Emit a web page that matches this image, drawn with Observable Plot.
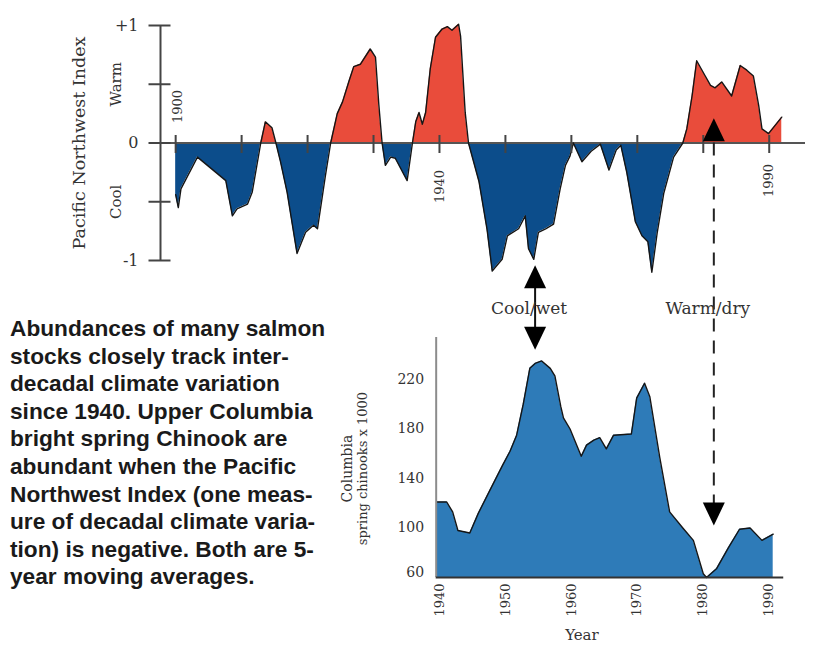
<!DOCTYPE html>
<html><head><meta charset="utf-8">
<script src="https://cdn.jsdelivr.net/npm/d3@7"></script>
<script src="https://cdn.jsdelivr.net/npm/@observablehq/plot@0.6"></script>
<style>
html,body{margin:0;padding:0;background:#fff;}
#wrap{position:relative;width:830px;height:647px;overflow:hidden;background:#fff;}
#wrap svg{position:absolute;left:0;top:0;}
#note{position:absolute;left:10px;top:315px;font-family:"Liberation Sans",Arial,sans-serif;font-weight:bold;font-size:22.7px;line-height:27.6px;color:#1a1a1a;white-space:nowrap;}
</style></head><body>
<div id="wrap"><div id="note">Abundances of many salmon<br>stocks closely track inter-<br>decadal climate variation<br>since 1940. Upper Columbia<br>bright spring Chinook are<br>abundant when the Pacific<br>Northwest Index (one meas-<br>ure of decadal climate varia-<br>tion) is negative. Both are 5-<br>year moving averages.</div></div>
<script>
// ---- Data: Pacific Northwest Index (5-yr moving average) ----
const pnwYear = [1900.0,1900.4,1900.8,1903.3,1907.6,1908.6,1909.3,1910.9,1911.6,1912.9,1913.6,1914.6,1915.2,1915.9,1916.9,1918.4,1919.7,1920.9,1921.5,1922.7,1923.5,1924.5,1925.3,1926.3,1927.0,1928.0,1929.5,1930.3,1930.8,1931.3,1931.8,1932.6,1933.3,1935.1,1935.9,1936.4,1936.9,1937.4,1937.9,1938.6,1939.4,1940.4,1941.2,1941.9,1942.9,1943.2,1943.9,1944.4,1946.0,1947.2,1948.0,1949.5,1950.3,1952.0,1953.0,1953.5,1954.3,1955.0,1956.1,1957.3,1958.3,1959.1,1959.8,1960.3,1961.6,1963.0,1964.4,1965.7,1966.8,1967.5,1968.4,1969.7,1970.7,1971.6,1972.2,1973.0,1974.0,1975.5,1976.9,1977.5,1978.3,1979.0,1980.3,1981.1,1981.8,1982.8,1984.3,1985.6,1986.6,1987.6,1988.4,1988.9,1989.9,1991.9];
const pnwValue = [-0.44,-0.55,-0.39,-0.12,-0.32,-0.62,-0.56,-0.52,-0.42,0,0.18,0.13,0,-0.16,-0.42,-0.94,-0.76,-0.70,-0.73,-0.28,0,0.25,0.35,0.53,0.65,0.67,0.80,0.73,0.33,0,-0.19,-0.12,-0.13,-0.32,0,0.18,0.26,0.16,0.26,0.63,0.90,0.97,0.99,0.96,1.01,0.91,0.26,0,-0.33,-0.73,-1.09,-0.99,-0.79,-0.73,-0.62,-0.90,-0.99,-0.76,-0.73,-0.69,-0.39,-0.19,-0.11,0,-0.16,-0.07,-0.01,-0.23,-0.06,-0.02,-0.25,-0.67,-0.79,-0.84,-1.10,-0.77,-0.43,-0.12,0,0.12,0.40,0.70,0.57,0.49,0.47,0.52,0.40,0.66,0.62,0.57,0.32,0.12,0.08,0.22];

// ---- Data: Columbia spring chinook x 1000 (5-yr moving average) ----
const chinookYear = [1939.6,1941.1,1942.0,1942.8,1944.6,1945.9,1947.6,1949.6,1950.7,1951.7,1952.7,1953.7,1954.5,1955.5,1956.8,1957.5,1958.4,1958.8,1959.8,1961.5,1962.3,1963.4,1964.3,1965.3,1966.4,1969.1,1969.9,1971.1,1971.9,1973.4,1974.9,1976.9,1978.5,1980.0,1980.5,1982.0,1983.8,1985.5,1987.1,1988.9,1990.6];
const chinookValue = [121,121,113,98,96,112,130,151,162,175,200,229,233,235,229,223,198,189,180,158,167,171,173,164,175,176,205,217,206,157,113,100,90,63,60,67,84,99,100,90,95];

// ---- Axis ticks / labels ----
const pnwTickMajor = [-1, 0, 1];
const pnwTickLabels = ["-1", "0", "+1"];
const pnwTickMinor = [-0.5, 0.5];
const pnwSideLabels = ["Warm", "Cool"];
const pnwSideAt = [0.5, -0.5];
const decadeTicks = [1900,1910,1920,1930,1940,1950,1960,1970,1980,1990];
const topYearAbove = [1900];
const topYearBelow1 = [1940];
const topYearBelow2 = [1990];
const chinookTicks = [60, 100, 140, 180, 220];
const chinookYearTicks = [1940, 1950, 1960, 1970, 1980, 1990];

// ---- Annotations ----
const eventYear = [1954.5, 1981.6];
const eventLabel = ["Cool/wet", "Warm/dry"];
const eventIndexTip = [-1.04, 0.21];
const eventChinookTip = [244, 102];

const pnw = pnwYear.map((year, i) => ({year, v: pnwValue[i]}));
const ch = chinookYear.map((year, i) => ({year, v: chinookValue[i]}));
const events = eventYear.map((year, i) => ({year, label: eventLabel[i], idxTip: eventIndexTip[i], chTip: eventChinookTip[i]}));

// scales
const xDomain = [1897.7, 1995.5], xRange = [160, 805];
const topDomain = [-1, 1], topRange = [260, 25];
const botDomain = [60, 220], botRange = [577, 379];
const topY = d3.scaleLinear(topDomain, topRange);
const botY = d3.scaleLinear(botDomain, botRange);
const X0 = xDomain[0];
const BX0 = 1939.5, BX1 = 1992.2;

const triUp = {draw(c){c.moveTo(0,0);c.lineTo(11,23);c.lineTo(-11,23);c.closePath();}};
const triDown = {draw(c){c.moveTo(0,0);c.lineTo(11,-23);c.lineTo(-11,-23);c.closePath();}};
const tickH = {draw(c){c.moveTo(-12,0);c.lineTo(10,0);}};
const tickV = {draw(c){c.moveTo(0,-8);c.lineTo(0,10);}};

const txt = "#333";
const common = {
  width: 830, height: 647,
  style: {background: "transparent", fontFamily: "DejaVu Serif", overflow: "visible"},
  x: {domain: xDomain, range: xRange, axis: null},
};

const topChart = Plot.plot({
  ...common,
  marginLeft: 160, marginRight: 25, marginTop: 25, marginBottom: 387,
  y: {domain: topDomain, range: topRange, axis: null},
  marks: [
    Plot.areaY(pnw, {x: "year", y1: () => 0, y2: d => Math.max(0, d.v), fill: "#e94c3b"}),
    Plot.areaY(pnw, {x: "year", y1: () => 0, y2: d => Math.min(0, d.v), fill: "#0c4d8b"}),
    Plot.ruleY([0], {x1: X0, x2: xDomain[1], stroke: "#555", strokeWidth: 2}),
    Plot.line(pnw, {x: "year", y: "v", stroke: "#151515", strokeWidth: 1.4}),
    Plot.ruleX([X0], {y1: -1, y2: 1, stroke: "#444", strokeWidth: 2}),
    Plot.dot([...pnwTickMajor, ...pnwTickMinor], {x: () => X0, y: d => d, symbol: tickH, stroke: "#444", strokeWidth: 2, fill: "none"}),
    Plot.text(pnwTickMajor, {x: () => X0, y: d => d, text: (d, i) => pnwTickLabels[i], textAnchor: "end", dx: -22, fontSize: 16, fill: txt}),
    Plot.text(pnwSideLabels, {x: () => X0, y: (d, i) => pnwSideAt[i], text: d => d, rotate: -90, dx: -44, fontSize: 15, fill: txt}),
    Plot.text(["Pacific Northwest Index"], {x: () => X0, y: () => 0, text: d => d, rotate: -90, dx: -81, fontSize: 17.5, fill: txt}),
    Plot.dot(decadeTicks, {x: d => d, y: () => 0, symbol: tickV, stroke: "#444", strokeWidth: 2, fill: "none"}),
    Plot.text(topYearAbove, {x: d => d, y: () => 0, text: d => String(d), rotate: -90, textAnchor: "start", dy: -20, dx: 2, fontSize: 13, fill: txt}),
    Plot.text(topYearBelow1, {x: d => d, y: () => 0, text: d => String(d), rotate: -90, textAnchor: "end", dy: 27, fontSize: 13, fill: txt}),
    Plot.text(topYearBelow2, {x: d => d, y: () => 0, text: d => String(d), rotate: -90, textAnchor: "end", dy: 21, fontSize: 13, fill: txt}),
    // annotations
    Plot.ruleX([events[0]], {x: "year", y1: d => topY.invert(topY(d.idxTip) + 22), y2: d => topY.invert(botY(d.chTip) - 22), stroke: "#111", strokeWidth: 2}),
    Plot.ruleX([events[1]], {x: "year", y1: () => 0, y2: d => topY.invert(botY(d.chTip) - 22), stroke: "#222", strokeWidth: 2, strokeDasharray: "13,9"}),
    Plot.dot(events, {x: "year", y: "idxTip", symbol: triUp, fill: "#000", stroke: "none"}),
    Plot.text(events, {x: "year", y: () => topY.invert(308), text: "label", dx: -6, fontSize: 17, fill: txt})
  ]
});

const bottomChart = Plot.plot({
  ...common,
  marginLeft: 437, marginRight: 47, marginTop: 337, marginBottom: 70,
  y: {domain: botDomain, range: botRange, axis: null},
  marks: [
    Plot.areaY(ch, {x: "year", y1: () => 60, y2: "v", fill: "#2e7bb8"}),
    Plot.line(ch, {x: "year", y: "v", stroke: "#151515", strokeWidth: 1.4}),
    Plot.ruleX([BX0], {y1: 60, y2: botY.invert(337), stroke: "#8c8c8c", strokeWidth: 2}),
    Plot.ruleY([60], {x1: BX0, x2: BX1, stroke: "#333", strokeWidth: 2}),
    Plot.text(chinookTicks.filter(v => v > 60), {x: () => BX0, y: d => d, text: d => String(d), textAnchor: "end", dx: -12, fontSize: 14, fill: txt}),
    Plot.text(chinookTicks.filter(v => v === 60), {x: () => BX0, y: d => d, text: d => String(d), textAnchor: "end", dx: -12, dy: -5, fontSize: 14, fill: txt}),
    Plot.text(chinookYearTicks, {x: d => d, y: () => 60, text: d => String(d), rotate: -90, textAnchor: "end", dy: 6, fontSize: 13, fill: txt}),
    Plot.text(["Year"], {x: () => 1961.6, y: () => 60, text: d => d, dy: 58, fontSize: 15, fill: txt}),
    Plot.text(["Columbia"], {x: () => BX0, y: () => 148, text: d => d, rotate: -90, dx: -89, fontSize: 14, fill: txt}),
    Plot.text(["spring chinooks x 1000"], {x: () => BX0, y: () => 148, text: d => d, rotate: -90, dx: -73, fontSize: 13, fill: txt}),
    Plot.dot(events, {x: "year", y: "chTip", symbol: triDown, fill: "#000", stroke: "none"})
  ]
});

const wrap = document.getElementById("wrap");
wrap.appendChild(topChart);
wrap.appendChild(bottomChart);
</script>
</body></html>
